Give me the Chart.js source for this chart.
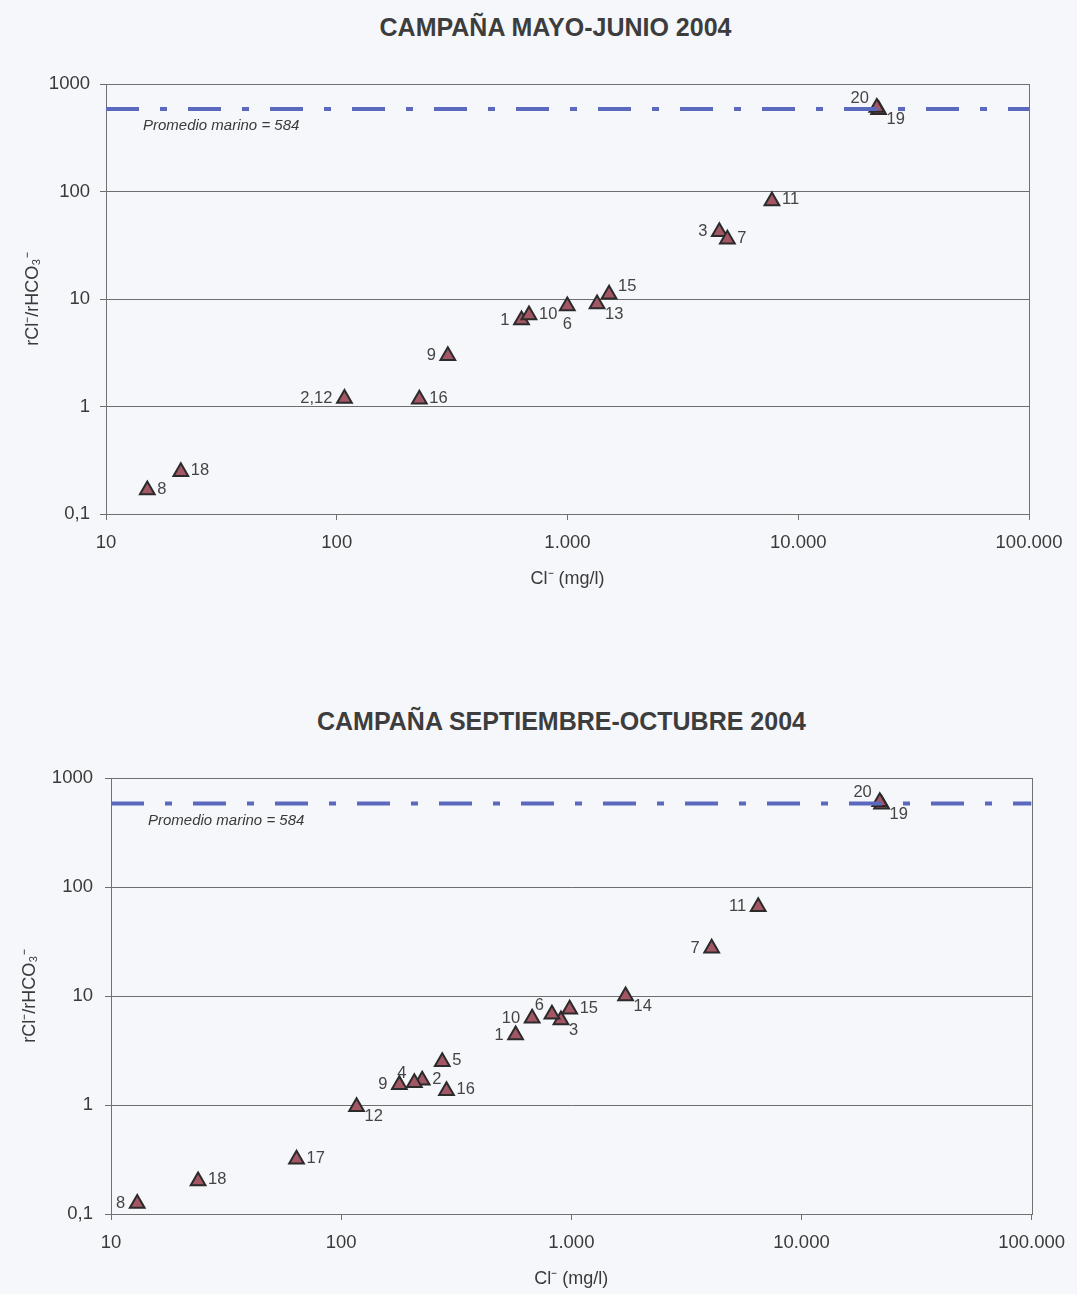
<!DOCTYPE html>
<html lang="es">
<head>
<meta charset="utf-8">
<title>Relación rCl/rHCO3 frente a Cl</title>
<script src="https://cdn.jsdelivr.net/npm/chart.js@4.4.1/dist/chart.umd.min.js"></script>
<style>
    html, body { margin: 0; padding: 0; background: #f6f7fb; }
    body { width: 1077px; height: 1294px; position: relative; overflow: hidden; font-family: "Liberation Sans", Arial, sans-serif; }
    .titulo { position: absolute; left: 0; width: 1077px; text-align: center; font-weight: bold; font-size: 25px; color: #3d3d3d; }
    canvas { position: absolute; left: 0; }
</style>
</head>
<body>
<div class="titulo" style="top: 13px; left: 17px;">CAMPAÑA MAYO-JUNIO 2004</div>
<canvas id="graficoMayo" width="1077" height="594" style="top: 0;"></canvas>
<div class="titulo" style="top: 707px; left: 23px;">CAMPAÑA SEPTIEMBRE-OCTUBRE 2004</div>
<canvas id="graficoSept" width="1077" height="604" style="top: 690px;"></canvas>

<script>
// ejes comunes
const yTicks = [0.1, 1, 10, 100, 1000];
const yTickLabels = ['0,1', '1', '10', '100', '1000'];
const xTicks = [10, 100, 1000, 10000, 100000];
const xTickLabels = ['10', '100', '1.000', '10.000', '100.000'];
const promedioMarino = 584;

// campaña mayo-junio 2004
const mayoMuestras = ['1', '2,12', '3', '6', '7', '8', '9', '10', '11', '13', '15', '16', '18', '19', '20'];
const mayoCl = [632, 108, 4550, 998, 4930, 15.1, 303, 681, 7690, 1343, 1514, 228, 21.1, 22300, 21900];
const mayoRatio = [6.38, 1.19, 42.3, 8.6, 35.9, 0.167, 2.97, 7.1, 81.7, 8.98, 11.1, 1.17, 0.247, 575, 605];
const mayoPosEtiqueta = ['l', 'l', 'l', 'b', 'r', 'r', 'l', 'r', 'r', 'br', 'ar', 'r', 'r', 'br', 'al'];

// campaña septiembre-octubre 2004
const septMuestras = ['1', '2', '3', '4', '5', '6', '7', '8', '9', '10', '11', '12', '14', '15', '16', '17', '18', '19', '20'];
const septCl = [573, 225, 902, 208, 275, 824, 4074, 13.0, 179, 676, 6490, 116.7, 1722, 984, 287, 64, 23.9, 22300, 21900];
const septRatio = [4.38, 1.69, 6.02, 1.60, 2.49, 6.79, 27.4, 0.125, 1.53, 6.24, 65.9, 0.964, 10.0, 7.55, 1.35, 0.318, 0.201, 575, 605];
const septPosEtiqueta = ['l', 'r', 'br', 'al', 'r', 'al', 'l', 'l', 'l', 'l', 'l', 'br', 'br', 'r', 'r', 'r', 'r', 'br', 'al'];

Chart.defaults.font.family = '"Liberation Sans", Arial, sans-serif';
Chart.defaults.color = '#3c3c3c';

// desplazamiento del texto de cada punto según su código
function desplazamiento(pos) {
    switch (pos) {
        case 'r':  return { dx: 10, dy: -1, align: 'left' };
        case 'l':  return { dx: -12, dy: 0, align: 'right' };
        case 'b':  return { dx: 0, dy: 18, align: 'center' };
        case 'ar': return { dx: 9, dy: -8, align: 'left' };
        case 'br': return { dx: 8, dy: 10, align: 'left' };
        case 'al': return { dx: -8, dy: -9, align: 'right' };
        default:   return { dx: 10, dy: 0, align: 'left' };
    }
}

// marco del área de gráfico (lados superior y derecho)
const marco = {
    id: 'marco',
    beforeDatasetsDraw(chart) {
        const { ctx, chartArea: a } = chart;
        ctx.save();
        ctx.strokeStyle = '#707070';
        ctx.lineWidth = 1;
        ctx.strokeRect(Math.round(a.left) + 0.5, Math.round(a.top) + 0.5,
            Math.round(a.right - a.left), Math.round(a.bottom - a.top));
        ctx.restore();
    }
};

// números de muestra junto a cada triángulo y rótulo de la línea marina
const etiquetas = {
    id: 'etiquetas',
    afterDatasetsDraw(chart) {
        const { ctx, chartArea } = chart;
        ctx.save();
        ctx.fillStyle = '#444';
        ctx.textBaseline = 'middle';
        ctx.font = '16.5px "Liberation Sans", Arial, sans-serif';
        const ds = chart.data.datasets[1];
        const meta = chart.getDatasetMeta(1);
        meta.data.forEach((pt, i) => {
            const d = desplazamiento(ds.posiciones[i]);
            ctx.textAlign = d.align;
            ctx.fillText(ds.muestras[i], pt.x + d.dx, pt.y + d.dy);
        });

        const yLinea = chart.scales.y.getPixelForValue(promedioMarino);
        ctx.font = 'italic 15px "Liberation Sans", Arial, sans-serif';
        ctx.textAlign = 'left';
        ctx.fillStyle = '#3a3a3a';
        ctx.fillText('Promedio marino = ' + promedioMarino, chartArea.left + 37, yLinea + 17);
        ctx.restore();
    }
};

function crearGrafico(idCanvas, cl, ratio, muestras, posiciones, dim) {
    const puntos = cl.map((v, i) => ({ x: v, y: ratio[i] }));
    const ctx = document.getElementById(idCanvas).getContext('2d');
    return new Chart(ctx, {
        type: 'scatter',
        data: {
            datasets: [
                {
                    type: 'line',
                    data: [{ x: xTicks[0], y: promedioMarino }, { x: xTicks[xTicks.length - 1], y: promedioMarino }],
                    borderColor: '#5a69bd',
                    borderWidth: 4,
                    borderDash: [33, 21, 7, 21],
                    pointRadius: 0,
                    fill: false
                },
                {
                    data: puntos,
                    muestras: muestras,
                    posiciones: posiciones,
                    pointStyle: 'triangle',
                    pointRadius: 8.5,
                    pointBackgroundColor: '#a35663',
                    pointBorderColor: '#2b2b2b',
                    pointBorderWidth: 2
                }
            ]
        },
        options: {
            responsive: false,
            animation: false,
            layout: { padding: { top: dim.top, right: dim.right, left: 0, bottom: 0 } },
            plugins: {
                legend: { display: false },
                tooltip: { enabled: false }
            },
            scales: {
                x: {
                    type: 'logarithmic',
                    min: 10,
                    max: 100000,
                    afterBuildTicks: axis => { axis.ticks = xTicks.map(v => ({ value: v })); },
                    afterFit: axis => { axis.height = 80; },
                    ticks: {
                        autoSkip: false,
                        maxRotation: 0,
                        padding: 12,
                        font: { size: 18.5 },
                        color: '#3a3a3a',
                        callback: v => xTickLabels[xTicks.indexOf(v)]
                    },
                    grid: { drawOnChartArea: false, drawTicks: true, tickLength: 6, color: '#707070' },
                    border: { color: '#707070' },
                    title: {
                        display: true,
                        text: 'Cl⁻ (mg/l)',
                        font: { size: 18 },
                        color: '#3a3a3a',
                        padding: { top: 0, bottom: 4 }
                    }
                },
                y: {
                    type: 'logarithmic',
                    min: 0.1,
                    max: 1000,
                    afterBuildTicks: axis => { axis.ticks = yTicks.map(v => ({ value: v })); },
                    afterFit: axis => { axis.width = dim.left; },
                    ticks: {
                        autoSkip: false,
                        padding: dim.tickPad,
                        font: { size: 18.5 },
                        color: '#3a3a3a',
                        callback: v => yTickLabels[yTicks.indexOf(v)]
                    },
                    grid: { color: '#6e6e6e', lineWidth: 1, drawTicks: true, tickLength: 6 },
                    border: { color: '#707070' },
                    title: {
                        display: true,
                        text: 'rCl⁻/rHCO₃⁻',
                        font: { size: 18 },
                        color: '#3a3a3a',
                        padding: { top: dim.titlePad, bottom: 0 }
                    }
                }
            }
        },
        plugins: [marco, etiquetas]
    });
}

crearGrafico('graficoMayo', mayoCl, mayoRatio, mayoMuestras, mayoPosEtiqueta,
    { top: 84, right: 48, left: 106, tickPad: 10, titlePad: 22 });
crearGrafico('graficoSept', septCl, septRatio, septMuestras, septPosEtiqueta,
    { top: 88, right: 40, left: 111, tickPad: 12, titlePad: 19 });
</script>
</body>
</html>
